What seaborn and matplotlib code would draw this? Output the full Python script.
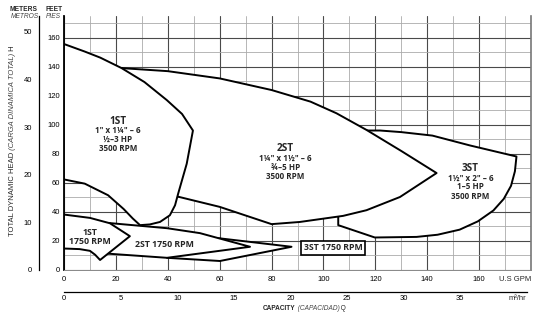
import matplotlib
matplotlib.use("Agg")
import matplotlib.pyplot as plt
import seaborn as sns
from matplotlib.ticker import MultipleLocator

# ---------------- data ----------------
gpm_ticks = [0, 20, 40, 60, 80, 100, 120, 140, 160]
ft_ticks = [0, 20, 40, 60, 80, 100, 120, 140, 160]
m_ticks = [0, 10, 20, 30, 40, 50]
m3h_ticks = [0, 5, 10, 15, 20, 25, 30, 35]

# 3500 RPM coverage regions (US GPM, feet)
st1_gpm = [0, 8, 14, 22.2, 31, 39.6, 45.5, 49.7, 47.3, 44, 42.8, 40.8, 37, 33.1, 29.3, 26.5, 23, 17, 8, 0]
st1_ft = [155.7, 150.5, 146.3, 139.1, 129.5, 117.1, 107.5, 96.1, 73.2, 52.6, 44.6, 37.7, 33.1, 31.4, 30.9, 35.5, 42, 51.5, 59.5, 62.4]

st2_gpm = [22.2, 40, 60, 80, 95, 105, 116.6, 130, 143.6, 129.5, 116.6, 107.6, 90.9, 80, 60, 44, 35, 28]
st2_ft = [139.1, 137, 132, 124, 116, 108, 96.5, 82, 66.8, 50.3, 41.2, 37.3, 33.1, 31.6, 43.5, 50.5, 60, 110]

st3_gpm = [116.6, 121.8, 130, 142, 156.5, 174.4, 173.8, 172.3, 169.5, 165.5, 159.5, 152.5, 144, 135.9, 119.8, 105.7, 105.7, 105.7, 112]
st3_ft = [96.1, 96.1, 95, 92.6, 85.8, 78.2, 68, 58, 49, 41, 33.5, 27.8, 24.3, 22.8, 22.4, 30.9, 36.6, 50, 90]

# 1750 RPM coverage regions (US GPM, feet)
st1s_gpm = [0, 10, 17.7, 25.4, 13.9, 12, 10, 6, 0]
st1s_ft = [38.2, 35.9, 32.2, 23.3, 6.9, 10.5, 13.2, 14.4, 14.8]

st2s_gpm = [10, 17.1, 39.7, 52.4, 71.7, 39.7, 15, 10]
st2s_ft = [30, 32.4, 28.8, 25.4, 16, 8.4, 11.5, 20]

st3s_gpm = [50, 60.1, 87.7, 60.1, 39.7, 45]
st3s_ft = [22, 21.8, 16, 6.2, 8.4, 14]

# labels: (text lines, gpm, ft of each line)
big_labels = [
    (["1ST", '1" x 1¼" – 6', "½–3 HP", "3500 RPM"], 20.8, [102.4, 96.0, 89.7, 83.5]),
    (["2ST", '1¼" x 1½" – 6', "¾–5 HP", "3500 RPM"], 85.4, [83.5, 76.6, 70.9, 64.5]),
    (["3ST", '1½" x 2" – 6', "1–5 HP", "3500 RPM"], 156.7, [69.8, 62.9, 57.2, 50.8]),
]
slow_labels = [
    ("1ST\n1750 RPM", 10.0, 22.7),
    ("2ST 1750 RPM", 38.9, 17.6),
]
boxed_label = ("3ST 1750 RPM", 103.8, 15.3)

FT_PER_M = 3.28084
GPM_PER_M3H = 4.40287

# ---------------- figure ----------------
sns.set_theme(style="white")
narrow = ["Liberation Sans Narrow", "Liberation Sans", "DejaVu Sans"]
plt.rcParams["font.family"] = narrow
bold_font = ["Open Sans", "DejaVu Sans"]

fig = plt.figure(figsize=(5.42, 3.18), dpi=100)
W, H = 542, 318
L, R, B, T = 64 / W, 531 / W, (H - 270) / H, (H - 16) / H
ax = fig.add_axes([L, B, R - L, T - B])
ax.set_xlim(0, 180)
ax.set_ylim(0, 175)
ax.set_xticks(gpm_ticks)
ax.set_yticks(ft_ticks)
ax.xaxis.set_minor_locator(MultipleLocator(10))
ax.yaxis.set_minor_locator(MultipleLocator(10))
ax.grid(which="major", color="#4a4a4a", lw=0.8)
ax.grid(which="minor", color="#ababab", lw=0.6)
ax.set_axisbelow(True)
ax.tick_params(axis="both", which="both", length=0, labelsize=5.5, colors="black")
ax.tick_params(axis="x", pad=4)
ax.tick_params(axis="y", pad=3)
ax.spines["top"].set_visible(False)
ax.spines["left"].set_color("black")
ax.spines["left"].set_linewidth(1.3)
ax.spines["bottom"].set_color("#888888")
ax.spines["bottom"].set_linewidth(0.7)
ax.spines["right"].set_color("#777777")
ax.spines["right"].set_linewidth(1.2)


def region(xs, ys, z):
    ax.fill(xs, ys, facecolor="white", edgecolor="none", zorder=z)
    sns.lineplot(x=list(xs) + [xs[0]], y=list(ys) + [ys[0]], sort=False,
                 estimator=None, color="black", lw=1.4, ax=ax, zorder=z + 0.5)


region(st3_gpm, st3_ft, 2)
region(st2_gpm, st2_ft, 4)
region(st1_gpm, st1_ft, 6)
region(st3s_gpm, st3s_ft, 2)
region(st2s_gpm, st2s_ft, 4)
region(st1s_gpm, st1s_ft, 6)

for lines, gx, fys in big_labels:
    for i, (txt, fy) in enumerate(zip(lines, fys)):
        ax.text(gx, fy, txt, ha="center", va="center", family=bold_font,
                weight="bold", fontsize=7.2 if i == 0 else 5.8, zorder=10,
                linespacing=1.0)
for txt, gx, fy in slow_labels:
    ax.text(gx, fy, txt, ha="center", va="center", family=bold_font,
            weight="bold", fontsize=6.3, zorder=10, linespacing=1.05)
ax.text(boxed_label[1], boxed_label[2], boxed_label[0], ha="center", va="center",
        family=bold_font, weight="bold", fontsize=6.3, zorder=10,
        bbox=dict(boxstyle="square,pad=0.3", fc="white", ec="black", lw=1.2))

ax.annotate("U.S GPM", xy=(180, 0), xycoords=ax.get_xaxis_transform(),
            xytext=(0, -4), textcoords="offset points", ha="right", va="top",
            fontsize=5.5, annotation_clip=False)

# meters axis
axm = fig.add_axes([38.5 / W, B, 0.002, T - B])
axm.set_ylim(0, 175 / FT_PER_M)
axm.set_yticks(m_ticks)
axm.set_xticks([])
for s in ["top", "right", "bottom"]:
    axm.spines[s].set_visible(False)
axm.spines["left"].set_color("black")
axm.spines["left"].set_linewidth(0.9)
axm.tick_params(axis="y", direction="out", length=3, width=0.8, labelsize=5.5,
                pad=1.5, colors="black")
axm.patch.set_alpha(0)

# m3/hr axis
axq = fig.add_axes([L, (H - 292) / H, R - L - 4 / W, 0.0001])
axq.set_xlim(0, 180 / GPM_PER_M3H)
axq.set_xticks(m3h_ticks)
axq.set_yticks([])
for s in ["top", "right", "left"]:
    axq.spines[s].set_visible(False)
axq.spines["bottom"].set_color("black")
axq.spines["bottom"].set_linewidth(0.9)
axq.tick_params(axis="x", direction="in", length=4, width=0.8, labelsize=5.5,
                pad=2.5, colors="black")
axq.patch.set_alpha(0)
axq.annotate("m³/hr", xy=(40, 0), xycoords=axq.get_xaxis_transform(),
             xytext=(0, -2.5), textcoords="offset points", ha="center", va="top",
             fontsize=5.5, annotation_clip=False)

# axis titles
t1 = fig.text(263 / W, (H - 308) / H, "CAPACITY", ha="left", va="center",
              fontsize=4.7, weight="bold")
t2 = ax.annotate(" (CAPACIDAD)", xy=(1, 0), xycoords=t1, ha="left", va="bottom",
                 fontsize=4.7, style="italic", color="#444444",
                 annotation_clip=False)
ax.annotate(" Q", xy=(1, 0), xycoords=t2, ha="left", va="bottom",
            fontsize=4.7, annotation_clip=False)

y1 = fig.text(13 / W, (H - 236) / H, "TOTAL DYNAMIC HEAD", rotation=90,
              ha="center", va="bottom", fontsize=5.5)
y2 = ax.annotate(" (CARGA DINAMICA TOTAL)", xy=(0.5, 1), xycoords=y1, rotation=90,
                 ha="center", va="bottom", fontsize=5.5, style="italic",
                 color="#444444", annotation_clip=False)
ax.annotate(" H", xy=(0.5, 1), xycoords=y2, rotation=90, ha="center", va="bottom",
            fontsize=5.5, annotation_clip=False)

fig.text(10 / W, 1 - 9.5 / H, "METERS", fontsize=4.8, weight="bold", ha="left", va="center")
fig.text(11 / W, 1 - 16.5 / H, "METROS", fontsize=4.8, style="italic", color="#444444",
         ha="left", va="center")
fig.text(46 / W, 1 - 9.5 / H, "FEET", fontsize=4.8, weight="bold", ha="left", va="center")
fig.text(46 / W, 1 - 16.5 / H, "PIES", fontsize=4.8, style="italic", color="#444444",
         ha="left", va="center")

fig.savefig("out.png", dpi=100)
